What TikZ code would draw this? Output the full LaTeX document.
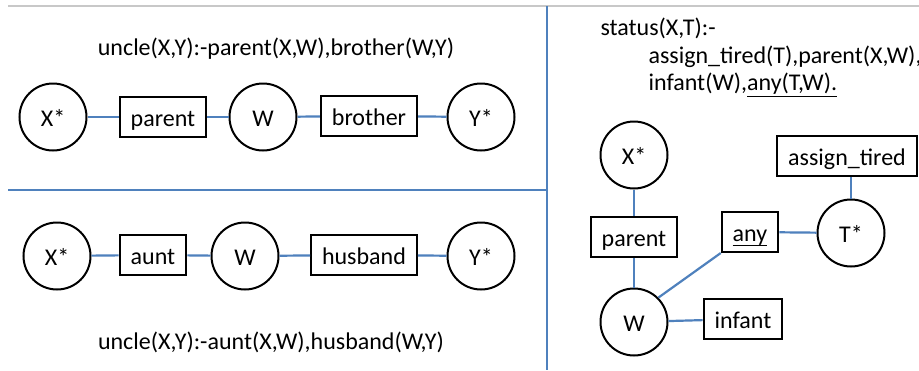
\documentclass[tikz,border=0pt]{standalone}
\usepackage{fontspec}
\setmainfont{Carlito}
\definecolor{lineblue}{HTML}{4F81BD}
\definecolor{topgray}{HTML}{C8C8C8}
\newcommand{\myul}[2]{\setbox0=\hbox{#2}\rlap{\rule[#1]{\wd0}{1.2pt}}\box0}
\begin{document}
\begin{tikzpicture}[x=1pt,y=-1pt,
  every node/.style={font=\fontsize{24}{29}\selectfont, text=black},
  var/.style={circle, draw=black, line width=2pt, minimum size=67pt, inner sep=0pt, text height=19pt, text depth=1pt},
  rel/.style={rectangle, draw=black, line width=2pt, minimum height=40pt, inner xsep=11pt, inner ysep=0pt, text height=19pt, text depth=1pt},
  link/.style={draw=lineblue, line width=2.2pt},
  frame/.style={draw=lineblue, line width=2pt}]
\useasboundingbox (0,0) rectangle (919,370);
\fill[white] (0,0) rectangle (919,370);
% frame lines
\draw[topgray, line width=2.5pt] (8,6) -- (919,6);
\draw[frame] (8,190) -- (547,190);
\draw[frame] (547,6) -- (547,370);
% top-left
\node[anchor=base] (t1) at (276,55) {uncle(X,Y):-parent(X,W),brother(W,Y)};
\node[var] (ax) at (53,117) {X*};
\node[rel] (ap) at (163,117) {parent};
\node[var] (aw) at (263,117) {W};
\node[rel] (ab) at (369,116) {brother};
\node[var] (ay) at (481,117) {Y*};
\draw[link] (ax) -- (ap);
\draw[link] (ap) -- (aw);
\draw[link] (aw) -- (ab);
\draw[link] (ab) -- (ay);
% bottom-left
\node[var] (bx) at (57,256) {X*};
\node[rel] (ba) at (153,255) {aunt};
\node[var] (bw) at (245,256) {W};
\node[rel] (bh) at (364,255) {husband};
\node[var] (by) at (481,256) {Y*};
\draw[link] (bx) -- (ba);
\draw[link] (ba) -- (bw);
\draw[link] (bw) -- (bh);
\draw[link] (bh) -- (by);
\node[anchor=base] (t2) at (271,349) {uncle(X,Y):-aunt(X,W),husband(W,Y)};
% right
\node[anchor=base west] (r1) at (597,35) {status(X,T):-};
\node[anchor=base west] (r2) at (645,63) {assign\_tired(T),parent(X,W),};
\node[anchor=base west] (r3) at (645,90) {infant(W),\myul{-7pt}{any(T,W).}};
\node[var] (cx) at (634,155) {X*};
\node[rel] (cp) at (634,237) {parent};
\node[var] (cw) at (634,322) {W};
\node[rel] (ci) at (743,319) {infant};
\node[rel] (ca) at (750,232) {\myul{-5pt}{any}};
\node[var] (ct) at (851,233) {T*};
\node[rel] (cs) at (847,156) {assign\_tired};
\draw[link] (cx) -- (cp);
\draw[link] (cp) -- (cw);
\draw[link] (cw) -- (ci);
\draw[link] (cw.45) -- (ca.south west);
\draw[link] (ca) -- (ct);
\draw[link] (cs.south -| ct) -- (ct);
\end{tikzpicture}
\end{document}
